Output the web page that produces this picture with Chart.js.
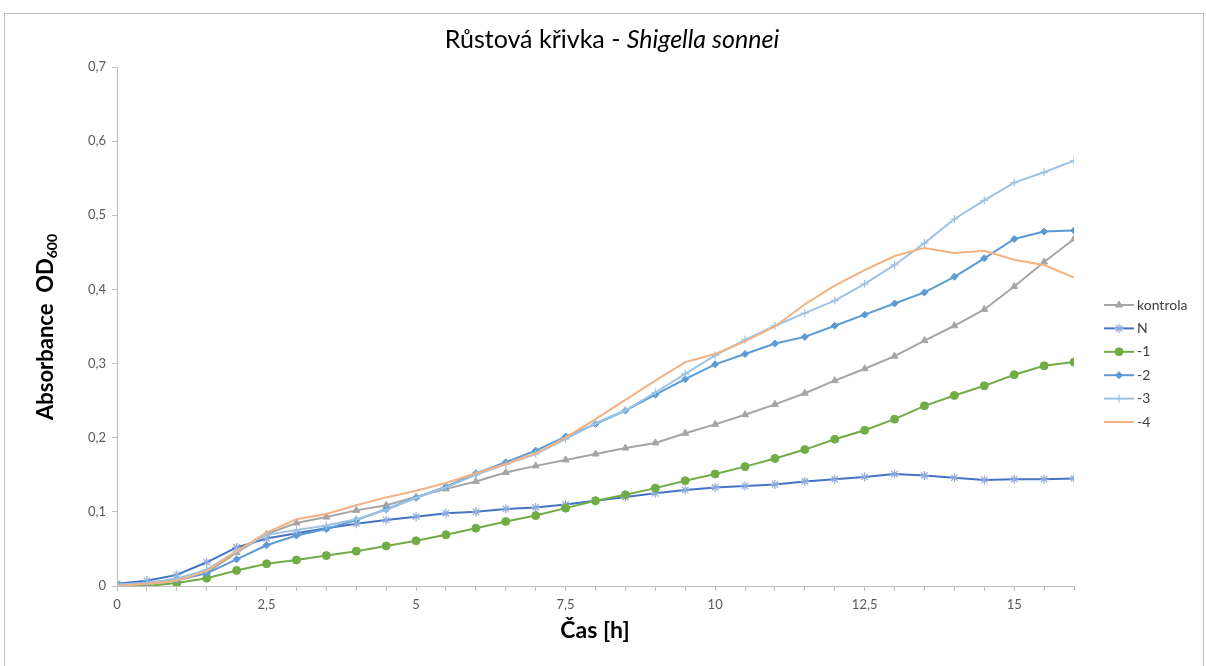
<!DOCTYPE html>
<html>
<head>
<meta charset="utf-8">
<script src="https://cdn.jsdelivr.net/npm/chart.js@4"></script>
<style>
html,body{margin:0;padding:0;background:#fff;}
#wrap{position:relative;width:1206px;height:666px;}
</style>
</head>
<body>
<div id="wrap"><canvas id="c" width="1206" height="666"></canvas></div>
<script>
// ---- data ----
const hours = [0,0.5,1,1.5,2,2.5,3,3.5,4,4.5,5,5.5,6,6.5,7,7.5,8,8.5,9,9.5,10,10.5,11,11.5,12,12.5,13,13.5,14,14.5,15,15.5,16];
const kontrola = [0.002,0.003,0.007,0.018,0.045,0.070,0.085,0.093,0.102,0.109,0.120,0.131,0.141,0.153,0.162,0.170,0.178,0.186,0.193,0.206,0.218,0.231,0.245,0.260,0.277,0.293,0.310,0.331,0.351,0.373,0.404,0.437,0.468];
const seriesN = [0.003,0.007,0.015,0.032,0.052,0.064,0.071,0.078,0.084,0.089,0.0935,0.098,0.100,0.104,0.106,0.110,0.115,0.120,0.125,0.1295,0.133,0.135,0.137,0.141,0.144,0.147,0.151,0.149,0.146,0.143,0.144,0.144,0.145];
const seriesM1 = [0.0,0.0,0.004,0.0105,0.021,0.030,0.035,0.041,0.047,0.054,0.061,0.069,0.078,0.087,0.095,0.105,0.115,0.123,0.132,0.142,0.151,0.161,0.172,0.184,0.198,0.210,0.225,0.243,0.257,0.270,0.285,0.297,0.302];
const seriesM2 = [0.002,0.004,0.008,0.017,0.036,0.055,0.068,0.077,0.089,0.1035,0.119,0.134,0.152,0.167,0.1825,0.2015,0.2185,0.2365,0.258,0.279,0.299,0.313,0.327,0.336,0.351,0.366,0.381,0.396,0.417,0.442,0.468,0.478,0.4795];
const seriesM3 = [0.002,0.004,0.010,0.022,0.047,0.069,0.0755,0.0815,0.090,0.1025,0.119,0.133,0.150,0.164,0.178,0.198,0.2195,0.237,0.261,0.286,0.311,0.332,0.351,0.368,0.385,0.4075,0.433,0.4625,0.495,0.520,0.544,0.558,0.5735];
const seriesM4 = [0.0,0.003,0.007,0.020,0.047,0.072,0.090,0.097,0.109,0.1195,0.1285,0.139,0.152,0.1645,0.179,0.200,0.225,0.251,0.277,0.302,0.313,0.330,0.350,0.380,0.405,0.426,0.445,0.456,0.449,0.452,0.440,0.433,0.416];
const seriesNames = ['kontrola','N','-1','-2','-3','-4'];
const xTickLabels = [0,2.5,5,7.5,10,12.5,15];

const FONT = "Lato,'Open Sans',sans-serif";
const toPts = arr => hours.map((h,i)=>({x:h,y:arr[i]}));

const styles = [
  {color:'#A5A5A5', point:'triangle', r:4, pc:'#A5A5A5'},
  {color:'#4472C4', point:'star', r:4.5, pc:'#8FAADC'},
  {color:'#70AD47', point:'circle', r:4, pc:'#70AD47'},
  {color:'#5B9BD5', point:'rectRot', r:3.5, pc:'#5B9BD5'},
  {color:'#9DC3E6', point:'cross', r:4, pc:'#9DC3E6'},
  {color:'#F4B183', point:false, r:0, pc:'#F4B183'}
];
const allSeries = [kontrola, seriesN, seriesM1, seriesM2, seriesM3, seriesM4];

const datasets = allSeries.map((arr,i)=>({
  label: seriesNames[i],
  data: toPts(arr),
  borderColor: styles[i].color,
  backgroundColor: styles[i].pc,
  pointBorderColor: styles[i].pc,
  pointBackgroundColor: styles[i].pc,
  pointStyle: styles[i].point,
  pointRadius: styles[i].r,
  pointBorderWidth: (i===1||i===4)?1.2:1,
  borderWidth: 2,
  tension: 0,
  order: 6-i
}));

const deco = {
  id:'deco',
  afterDraw(chart){
    const ctx = chart.ctx;
    ctx.save();
    // frame
    ctx.strokeStyle = '#BFBFBF';
    ctx.lineWidth = 1;
    ctx.strokeRect(4.5, 13.5, 1199, 700);
    // title
    ctx.fillStyle = '#000';
    ctx.textBaseline = 'middle';
    const f1 = "25px " + FONT, f2 = "italic 25px " + FONT;
    const t1 = 'Růstová křivka - ', t2 = 'Shigella sonnei';
    ctx.font = f1; const w1 = ctx.measureText(t1).width;
    ctx.font = f2; const w2 = ctx.measureText(t2).width;
    let x0 = 612 - (w1+w2)/2;
    ctx.font = f1; ctx.textAlign='left'; ctx.fillText(t1, x0, 40);
    ctx.font = f2; ctx.fillText(t2, x0+w1, 40);
    // x title
    ctx.font = "bold 23px " + FONT;
    ctx.textAlign = 'center';
    ctx.fillText('Čas [h]', 595, 631);
    // y title with subscript
    ctx.translate(46, 327);
    ctx.rotate(-Math.PI/2);
    const ya = 'Absorbance  OD', yb = '600';
    ctx.font = "bold 22px " + FONT; const wa = ctx.measureText(ya).width;
    ctx.font = "bold 14px " + FONT; const wb = ctx.measureText(yb).width;
    const sx = -(wa+wb)/2;
    ctx.textAlign='left';
    ctx.font = "bold 22px " + FONT; ctx.fillText(ya, sx, 0);
    ctx.font = "bold 14px " + FONT; ctx.fillText(yb, sx+wa, 6);
    ctx.restore();
    // legend
    ctx.save();
    chart.data.datasets.forEach((ds,i)=>{
      const y = 305 + i*23.4;
      ctx.strokeStyle = ds.borderColor;
      ctx.lineWidth = 2;
      ctx.beginPath(); ctx.moveTo(1104, y); ctx.lineTo(1134, y); ctx.stroke();
      if (ds.pointStyle) {
        ctx.fillStyle = ds.pointBackgroundColor;
        ctx.strokeStyle = ds.pointBorderColor;
        ctx.lineWidth = ds.pointBorderWidth;
        Chart.helpers.drawPoint(ctx, {pointStyle: ds.pointStyle, radius: ds.pointRadius, rotation:0, borderWidth: ds.pointBorderWidth}, 1119, y);
      }
      ctx.fillStyle = '#404040';
      ctx.font = "14px " + FONT;
      ctx.textAlign = 'left';
      ctx.textBaseline = 'middle';
      ctx.fillText(ds.label, 1137, y);
    });
    ctx.restore();
  }
};

new Chart(document.getElementById('c'), {
  type:'line',
  data:{datasets},
  options:{
    responsive:false,
    animation:false,
    layout:{padding:{left:0,right:132,top:67,bottom:0}},
    plugins:{legend:{display:false}, title:{display:false}, tooltip:{enabled:false}},
    scales:{
      x:{
        type:'linear', min:0, max:16,
        afterFit(s){ s.height = 80; },
        ticks:{
          stepSize:0.5, autoSkip:false, maxRotation:0, padding:6,
          color:'#595959', font:{family:FONT, size:13},
          callback:(v)=> xTickLabels.includes(v) ? String(v).replace('.',',') : ''
        },
        grid:{drawOnChartArea:false, drawTicks:true, tickLength:5, color:'#BFBFBF'},
        border:{color:'#BFBFBF', width:1}
      },
      y:{
        min:0, max:0.7,
        afterFit(s){ s.width = 117; },
        ticks:{
          stepSize:0.1, padding:6, color:'#595959', font:{family:FONT, size:13},
          callback:(v)=> v===0 ? '0' : v.toFixed(1).replace('.',',')
        },
        grid:{drawOnChartArea:false, drawTicks:true, tickLength:5, color:'#BFBFBF'},
        border:{color:'#BFBFBF', width:1}
      }
    }
  },
  plugins:[deco]
});
</script>
</body>
</html>
